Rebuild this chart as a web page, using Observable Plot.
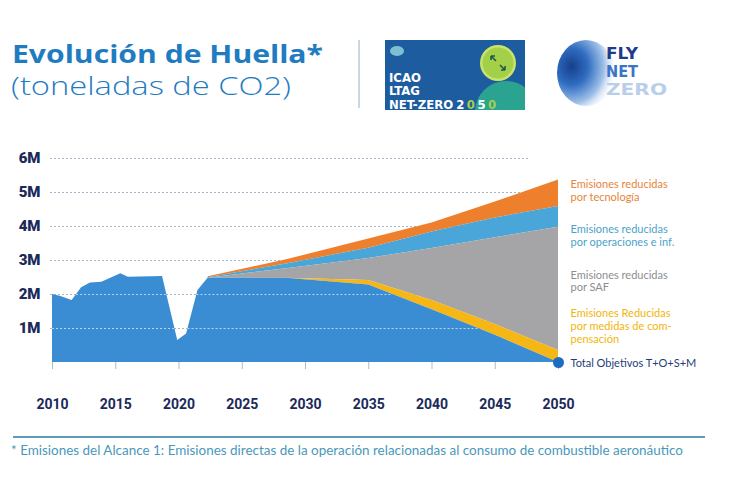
<!DOCTYPE html>
<html><head><meta charset="utf-8">
<script src="https://cdn.jsdelivr.net/npm/d3@7"></script>
<script src="https://cdn.jsdelivr.net/npm/@observablehq/plot@0.6"></script>
<style>
html,body{margin:0;padding:0;background:#fff}
body{width:730px;height:477px;overflow:hidden;position:relative;font-family:Lato,"Open Sans",sans-serif}
#head,#foot{position:absolute;left:0}
#head{top:0}
#chart{position:absolute;left:0;top:130px}
#foot{top:425px}
</style></head><body>
<svg id="head" width="730" height="125">
  <text x="12" y="63" font-family="Open Sans" font-weight="700" font-size="25.5" fill="#1f7cc1" textLength="311" lengthAdjust="spacingAndGlyphs">Evolución de Huella*</text>
  <text x="11" y="94.5" font-family="Open Sans" font-weight="300" font-size="25.5" fill="#1f7cc1" textLength="280" lengthAdjust="spacingAndGlyphs">(toneladas de CO2)</text>
  <line x1="359" y1="40" x2="359" y2="108" stroke="#b7cad9" stroke-width="1.5"/>
  <defs>
    <clipPath id="icaoClip"><rect x="385" y="40" width="140" height="70"/></clipPath>
    <radialGradient id="globe" cx="0.25" cy="0.4" r="0.8">
      <stop offset="0" stop-color="#173f8c"/>
      <stop offset="0.35" stop-color="#2f6cc0"/>
      <stop offset="0.7" stop-color="#9fc0e8"/>
      <stop offset="1" stop-color="#ffffff" stop-opacity="0"/>
    </radialGradient>
  </defs>
  <rect x="385" y="40" width="140" height="70" fill="#1d5c9f"/>
  <g clip-path="url(#icaoClip)">
    <circle cx="506" cy="112" r="31" fill="#2aa391"/>
    <circle cx="498" cy="63" r="18" fill="#c9e36b"/>
    <circle cx="498" cy="63" r="15.5" fill="#a4cf48"/>
    <path d="M491 56 l5 5 M491 56 l0 4 M491 56 l4 0 M505 70 l-5 -5 M505 70 l0 -4 M505 70 l-4 0" stroke="#1d5c4a" stroke-width="1.6" fill="none"/>
    <ellipse cx="397" cy="51" rx="7" ry="5" fill="#8fd0dc" opacity="0.85"/>
  </g>
  <g font-family="DejaVu Sans Condensed" font-weight="bold" font-size="13" fill="#ffffff">
    <text x="389" y="81.5">ICAO</text>
    <text x="389" y="95">LTAG</text>
    <text x="389" y="108.5">NET-ZERO<tspan dx="3" letter-spacing="2.5">2</tspan><tspan letter-spacing="2.5" fill="#a4cf48">0</tspan><tspan letter-spacing="2.5">5</tspan><tspan fill="#a4cf48">0</tspan></text>
  </g>
  <ellipse cx="586" cy="73" rx="29" ry="33" fill="url(#globe)"/>
  <g font-family="DejaVu Sans" font-weight="bold" font-size="16.5">
    <text x="606" y="59" fill="#1f3b8a" textLength="32" lengthAdjust="spacingAndGlyphs">FLY</text>
    <text x="606" y="77" fill="#3b74c4" textLength="32" lengthAdjust="spacingAndGlyphs">NET</text>
    <text x="606" y="95" fill="#b9cfe9" textLength="61" lengthAdjust="spacingAndGlyphs">ZERO</text>
  </g>
</svg>
<div id="chart"></div>
<svg id="foot" width="730" height="50">
  <line x1="13" y1="12" x2="705" y2="12" stroke="#5e9cb6" stroke-width="2"/>
  <text x="11" y="30" font-family="Lato" font-size="13" fill="#4a98bb" textLength="672" lengthAdjust="spacingAndGlyphs">* Emisiones del Alcance 1: Emisiones directas de la operación relacionadas al consumo de combustible aeronáutico</text>
</svg>
<script>
// ---- data (millions of tonnes CO2) ----
const histYears = [2010, 2010.6, 2011.55, 2012.3, 2013, 2013.9, 2015.4, 2016, 2018.7, 2019.9, 2020.6, 2021.5, 2022.3];
const histEmissions = [2.0, 1.95, 1.82, 2.2, 2.34, 2.36, 2.61, 2.51, 2.53, 0.65, 0.84, 2.12, 2.48];
const projYears = [2022.3, 2028.5, 2035, 2040, 2045, 2050];
const netTarget = [2.48, 2.48, 2.28, 1.55, 0.8, 0];        // Total Objetivos T+O+S+M
const compensation = [0, 0, 0.13, 0.27, 0.32, 0.35];       // medidas de compensación
const safReduction = [0, 0.28, 0.65, 1.53, 2.55, 3.63];    // SAF
const opsReduction = [0.01, 0.14, 0.30, 0.49, 0.58, 0.61]; // operaciones e inf.
const techReduction = [0.03, 0.12, 0.27, 0.26, 0.47, 0.78];// tecnología
const xTicks = [2010, 2015, 2020, 2025, 2030, 2035, 2040, 2045, 2050];
const yTicks = [1, 2, 3, 4, 5, 6];
const yTickLabels = ["1M", "2M", "3M", "4M", "5M", "6M"];
const seriesLabels = [
  "Total Objetivos T+O+S+M",
  "Emisiones Reducidas\npor medidas de com-\npensación",
  "Emisiones reducidas\npor SAF",
  "Emisiones reducidas\npor operaciones e inf.",
  "Emisiones reducidas\npor tecnología"
];

// ---- styles ----
const fills = ["#3a8dd3", "#f6b615", "#a5a5a7", "#4aa5d8", "#ee7f2d"];
const textColors = ["#1f3d7a", "#f2b50a", "#8d8d8f", "#4aa3c9", "#e8843a"];
const labelDy = [0, -31, -8, 19, -3];

// stack the projection layers
const layers = [netTarget, compensation, safReduction, opsReduction, techReduction];
const bands = layers.map((vals, i) => projYears.map((x, j) => {
  const y1 = d3.sum(layers.slice(0, i), L => L[j]);
  return {x, y1, y2: y1 + vals[j]};
}));
const blueRows = histYears.map((x, i) => ({x, y1: 0, y2: histEmissions[i]})).concat(bands[0].slice(1));
const labelRows = bands.map((b, i) => {
  const last = b[b.length - 1];
  return {x: last.x, y: i === 0 ? 0 : (last.y1 + last.y2) / 2, text: seriesLabels[i], color: textColors[i], dy: labelDy[i]};
});

// portions of each gridline that lie inside the blue area (drawn lighter on top)
function insideBlue(points, v) {
  const segs = [];
  let start = points[0].y2 >= v ? points[0].x : null;
  for (let i = 1; i < points.length; i++) {
    const a = points[i - 1], b = points[i];
    const ia = a.y2 >= v, ib = b.y2 >= v;
    if (ia !== ib) {
      const xc = a.x + (v - a.y2) * (b.x - a.x) / (b.y2 - a.y2);
      if (ia) { segs.push({v, x1: start, x2: xc}); start = null; } else start = xc;
    }
  }
  if (start !== null) segs.push({v, x1: start, x2: points[points.length - 1].x});
  return segs;
}
const overSegs = yTicks.flatMap(v => insideBlue(blueRows, v));

const navy = "#1b2a5a";
const marks = [
  Plot.ruleY(yTicks, {stroke: "#a3b6c8", strokeDasharray: "2,2", insetLeft: -2, insetRight: 28}),
];
for (let i = 4; i >= 1; i--) {
  marks.push(Plot.areaY(bands[i], {x: "x", y1: "y1", y2: "y2", fill: fills[i], curve: "linear"}));
}
marks.push(Plot.areaY(blueRows, {x: "x", y1: "y1", y2: "y2", fill: fills[0], curve: "linear"}));
marks.push(Plot.ruleY(overSegs, {y: "v", x1: "x1", x2: "x2", stroke: "#d6e8f7", strokeOpacity: 0.8, strokeWidth: 1.2, strokeDasharray: "2,2"}));
labelRows.forEach(d => marks.push(Plot.text([d], {
  x: "x", y: "y", text: "text", dx: 12, dy: d.dy, textAnchor: "start", lineAnchor: "middle",
  fill: d.color, fontSize: 11, fontFamily: "Lato", lineHeight: 1.17
})));
marks.push(Plot.axisX({ticks: xTicks, tickFormat: d => String(d), tickSize: 7, tickPadding: 30, stroke: "#a9bdd0", fill: navy,
  fontSize: 14, fontWeight: "bold", fontFamily: "Roboto", label: null}));
marks.push(Plot.axisY({ticks: yTicks, tickFormat: d => yTickLabels[yTicks.indexOf(d)], tickSize: 0, tickPadding: 12, fill: navy,
  fontSize: 15, fontWeight: "900", fontFamily: "Roboto", label: null}));
marks.push(Plot.dot([bands[0][bands[0].length - 1]], {x: "x", y: "y2", r: 5.5, fill: "#1e6cc0", stroke: "none"}));

const chart = Plot.plot({
  width: 730, height: 290,
  marginLeft: 52, marginRight: 172, marginTop: 28, marginBottom: 58,
  x: {domain: [2010, 2050], label: null},
  y: {domain: [0, 6], label: null},
  style: {background: "transparent", overflow: "visible"},
  marks
});
document.getElementById("chart").appendChild(chart);
</script>
</body></html>
